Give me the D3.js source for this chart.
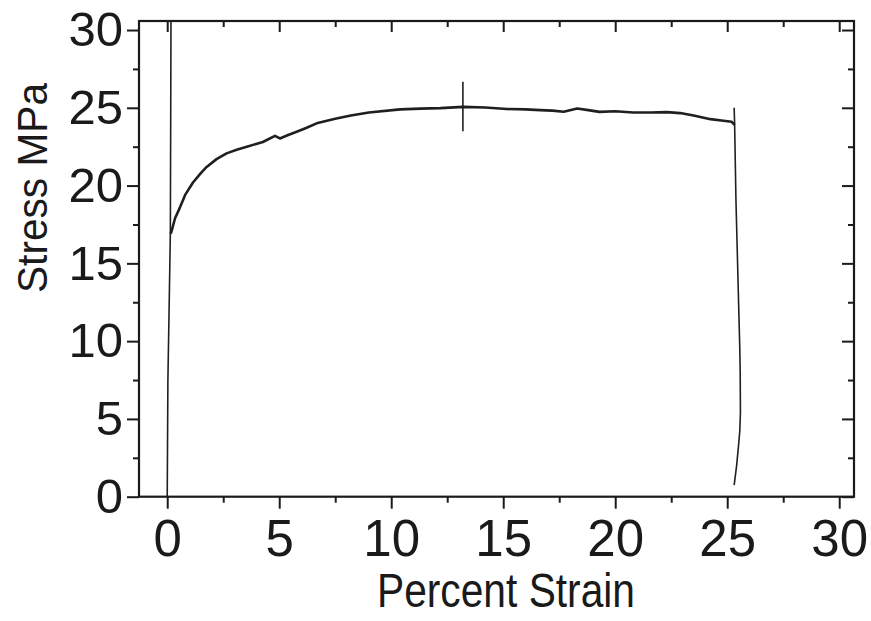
<!DOCTYPE html>
<html>
<head>
<meta charset="utf-8">
<script src="https://cdn.jsdelivr.net/npm/d3@7"></script>
<style>
  body { margin: 0; background: #fff; }
  text { font-family: "Liberation Sans", Arial, sans-serif; fill: #1a1a1a; }
</style>
</head>
<body>
<div id="chart"></div>
<script>
// loading (elastic) line
let loadStrain = [0, 0.03, 0.09, 0.14, 0.17];
let loadStress = [0, 7.5, 12.6, 17.0, 31.5];

// plastic part of the curve
let curveStrain = [0.15, 0.2, 0.35, 0.57, 0.8, 1.15, 1.5, 1.76, 2.2, 2.65, 3.1, 3.55, 4.27, 4.81, 5.03,
    5.4, 5.78, 6.2, 6.67, 7.5, 8.2, 9.0, 10.4, 11.3, 12.2, 13.2, 14.2, 15.16, 16.0, 16.65, 17.2,
    17.7, 18.3, 18.8, 19.3, 20.0, 20.8, 21.6, 22.3, 22.9, 23.5, 24.25, 24.83, 25.2, 25.33];
let curveStress = [16.9, 17.1, 17.9, 18.6, 19.4, 20.2, 20.8, 21.2, 21.7, 22.07, 22.3, 22.5, 22.8, 23.2, 23.03,
    23.25, 23.46, 23.7, 24.0, 24.3, 24.5, 24.7, 24.9, 24.95, 24.98, 25.06, 25.02, 24.92, 24.9, 24.85, 24.82,
    24.75, 24.96, 24.85, 24.74, 24.78, 24.7, 24.7, 24.72, 24.66, 24.5, 24.27, 24.17, 24.1, 23.9];

// fracture drop
let dropStrain = [25.31, 25.33, 25.39, 25.52, 25.56, 25.58, 25.59, 25.56, 25.5, 25.42, 25.31];
let dropStress = [25.0, 24.0, 19.06, 11.8, 9.6, 7.95, 5.4, 4.2, 3.2, 2.0, 0.75];

// vertical marker at max stress
let markStrain = [13.2, 13.2];
let markStress = [23.5, 26.67];

let xTicks = [0, 5, 10, 15, 20, 25, 30];
let yTicks = [0, 5, 10, 15, 20, 25, 30];
let xMinor = [2.5, 7.5, 12.5, 17.5, 22.5, 27.5];
let yMinor = [2.5, 7.5, 12.5, 17.5, 22.5, 27.5];

let w = 871, h = 621;
let plotLeft = 139, plotRight = 854, plotTop = 21, plotBottom = 496.7;

let svg = d3.select("#chart").append("svg")
    .attr("width", w)
    .attr("height", h);

let xScale = d3.scaleLinear().domain([-1.26, 30.66]).range([plotLeft, plotRight]);
let yScale = d3.scaleLinear().domain([0, 30.58]).range([plotBottom, plotTop]);

function styleAxis(g) {
    g.select(".domain").remove();
    g.selectAll("line").attr("stroke", "#1a1a1a").attr("stroke-width", 2);
}

// minor ticks, no labels
svg.append("g").attr("transform", "translate(0," + plotBottom + ")")
    .call(d3.axisBottom(xScale).tickValues(xMinor).tickSize(6).tickFormat(""))
    .call(styleAxis);
svg.append("g").attr("transform", "translate(0," + plotTop + ")")
    .call(d3.axisBottom(xScale).tickValues(xMinor).tickSize(6).tickFormat(""))
    .call(styleAxis);
svg.append("g").attr("transform", "translate(" + plotLeft + ",0)")
    .call(d3.axisLeft(yScale).tickValues(yMinor).tickSize(6).tickFormat(""))
    .call(styleAxis);
svg.append("g").attr("transform", "translate(" + plotRight + ",0)")
    .call(d3.axisLeft(yScale).tickValues(yMinor).tickSize(6).tickFormat(""))
    .call(styleAxis);

// major ticks
svg.append("g").attr("transform", "translate(0," + plotBottom + ")")
    .call(d3.axisBottom(xScale).tickValues(xTicks).tickSize(12).tickPadding(11).tickFormat(d3.format("d")))
    .call(styleAxis)
    .selectAll("text").attr("font-size", 51).attr("font-family", null);
svg.append("g").attr("transform", "translate(0," + plotTop + ")")
    .call(d3.axisBottom(xScale).tickValues(xTicks).tickSize(11).tickFormat(""))
    .call(styleAxis);
svg.append("g").attr("transform", "translate(" + plotLeft + ",0)")
    .call(d3.axisLeft(yScale).tickValues(yTicks).tickSize(12).tickPadding(4).tickFormat(d3.format("d")))
    .call(styleAxis)
    .selectAll("text").attr("font-size", 49).attr("font-family", null);
svg.append("g").attr("transform", "translate(" + plotRight + ",0)")
    .call(d3.axisLeft(yScale).tickValues(yTicks).tickSize(12).tickFormat(""))
    .call(styleAxis);

// frame
svg.append("rect")
    .attr("x", plotLeft).attr("y", plotTop)
    .attr("width", plotRight - plotLeft).attr("height", plotBottom - plotTop)
    .attr("fill", "none").attr("stroke", "#1a1a1a").attr("stroke-width", 2.2);

svg.append("clipPath").attr("id", "plot-clip")
    .append("rect")
    .attr("x", plotLeft).attr("y", plotTop)
    .attr("width", plotRight - plotLeft).attr("height", plotBottom - plotTop);

let plot = svg.append("g").attr("clip-path", "url(#plot-clip)");

let line = d3.line()
    .x((d) => xScale(d[0]))
    .y((d) => yScale(d[1]));

function drawLine(xs, ys, width) {
    plot.append("path")
        .datum(d3.zip(xs, ys))
        .attr("d", line)
        .attr("fill", "none")
        .attr("stroke", "#1f1f1f")
        .attr("stroke-width", width)
        .attr("stroke-linejoin", "round");
}

drawLine(loadStrain, loadStress, 1.6);
drawLine(curveStrain, curveStress, 2.6);
drawLine(dropStrain, dropStress, 1.6);
drawLine(markStrain, markStress, 1.6);

// axis titles
svg.append("text")
    .attr("x", 506).attr("y", 607)
    .attr("text-anchor", "middle")
    .attr("font-size", 49)
    .attr("textLength", 258)
    .attr("lengthAdjust", "spacingAndGlyphs")
    .text("Percent Strain");

svg.append("text")
    .attr("transform", "translate(47,188) rotate(-90)")
    .attr("text-anchor", "middle")
    .attr("font-size", 43)
    .attr("textLength", 210)
    .attr("lengthAdjust", "spacingAndGlyphs")
    .text("Stress MPa");
</script>
</body>
</html>
